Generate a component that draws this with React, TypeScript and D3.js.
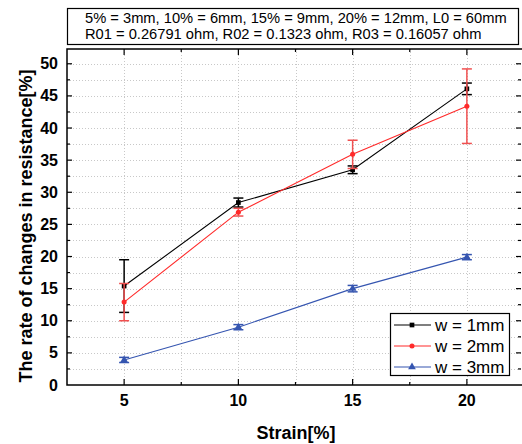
import * as d3 from "d3";
import { useRef, useEffect } from "react";

// strain values on the x axis
const strains = [5, 10, 15, 20];

// mean resistance change for each width
const w1Values = [15.4, 28.4, 33.5, 46.1];
const w2Values = [12.9, 26.9, 35.9, 43.4];
const w3Values = [3.9, 9.0, 15.0, 19.9];

// error bar half-heights
const w1Errors = [4.1, 0.7, 0.6, 0.9];
const w2Errors = [2.9, 0.6, 2.2, 5.8];
const w3Errors = [0.4, 0.4, 0.5, 0.4];

// tick labels
const xTicks = [5, 10, 15, 20];
const yTicks = [0, 5, 10, 15, 20, 25, 30, 35, 40, 45, 50];

const legendLabels = ["w = 1mm", "w = 2mm", "w = 3mm"];
const noteLines = [
  "5% = 3mm, 10% = 6mm, 15% = 9mm, 20% = 12mm, L0 = 60mm",
  "R01 = 0.26791 ohm, R02 = 0.1323 ohm, R03 = 0.16057 ohm",
];

const FONT = "Arial, 'Liberation Sans', sans-serif";

export default function App() {
  const svgRef = useRef<SVGSVGElement>(null);

  useEffect(() => {
    const svg = d3.select(svgRef.current);
    svg.selectAll("*").remove();

    const left = 67, right = 524, top = 49, bottom = 385;

    const x = d3.scaleLinear().domain([2.5, 22.5]).range([left, right]);
    const y = d3.scaleLinear().domain([0, 52.3]).range([bottom, top]);

    // dotted grid on major and minor ticks
    const grid = svg.append("g").attr("stroke", "#c8c8c8").attr("stroke-width", 1).attr("stroke-dasharray", "1,2");
    d3.range(5, 22.6, 2.5).forEach(v => {
      grid.append("line").attr("x1", Math.round(x(v)) + 0.5).attr("x2", Math.round(x(v)) + 0.5).attr("y1", top).attr("y2", bottom);
    });
    d3.range(2.5, 52.3, 2.5).forEach(v => {
      grid.append("line").attr("x1", left).attr("x2", right).attr("y1", Math.round(y(v)) + 0.5).attr("y2", Math.round(y(v)) + 0.5);
    });

    // frame
    svg.append("rect").attr("x", left).attr("y", top).attr("width", right - left).attr("height", bottom - top)
      .attr("fill", "none").attr("stroke", "#000").attr("stroke-width", 1.5);

    // inward ticks on all four sides
    const ticks = svg.append("g").attr("stroke", "#000").attr("stroke-width", 1.2);
    d3.range(5, 22.6, 2.5).forEach(v => {
      const len = v % 5 === 0 ? 6 : 3;
      ticks.append("line").attr("x1", x(v)).attr("x2", x(v)).attr("y1", bottom).attr("y2", bottom - len);
      ticks.append("line").attr("x1", x(v)).attr("x2", x(v)).attr("y1", top).attr("y2", top + len);
    });
    d3.range(2.5, 52.3, 2.5).forEach(v => {
      const len = v % 5 === 0 ? 5 : 3;
      ticks.append("line").attr("x1", left).attr("x2", left + len).attr("y1", y(v)).attr("y2", y(v));
      ticks.append("line").attr("x1", 521).attr("x2", 521 - len).attr("y1", y(v)).attr("y2", y(v));
    });

    // tick labels
    svg.append("g").selectAll("text").data(xTicks).enter().append("text")
      .attr("x", d => x(d)).attr("y", 406).attr("text-anchor", "middle")
      .attr("font-family", FONT).attr("font-weight", "bold").attr("font-size", 16).text(d => d);
    svg.append("g").selectAll("text").data(yTicks).enter().append("text")
      .attr("x", 58).attr("y", d => y(d) + 5.5).attr("text-anchor", "end")
      .attr("font-family", FONT).attr("font-weight", "bold").attr("font-size", 16).text(d => d);

    // axis titles
    svg.append("text").attr("x", 296).attr("y", 439).attr("text-anchor", "middle")
      .attr("font-family", FONT).attr("font-weight", "bold").attr("font-size", 18).text("Strain[%]");
    svg.append("text").attr("transform", "translate(32,226) rotate(-90)").attr("text-anchor", "middle")
      .attr("font-family", FONT).attr("font-weight", "bold").attr("font-size", 18)
      .text("The rate of changes in resistance[%]");

    // series
    const series = [
      { values: w1Values, errors: w1Errors, color: "#000000", bar: "#000000", shape: d3.symbolSquare, size: 22 },
      { values: w2Values, errors: w2Errors, color: "#ff2a2a", bar: "#f05050", shape: d3.symbolCircle, size: 20 },
      { values: w3Values, errors: w3Errors, color: "#3555b0", bar: "#3555b0", shape: d3.symbolTriangle, size: 26 },
    ];

    const line = d3.line<number>().x((_, i) => x(strains[i])).y(d => y(d));

    series.forEach(s => {
      const g = svg.append("g");
      // error bars
      s.values.forEach((v, i) => {
        const cx = x(strains[i]);
        const hi = y(v + s.errors[i]), lo = y(v - s.errors[i]);
        g.append("line").attr("x1", cx).attr("x2", cx).attr("y1", hi).attr("y2", lo).attr("stroke", s.bar).attr("stroke-width", 1.5);
        g.append("line").attr("x1", cx - 5).attr("x2", cx + 5).attr("y1", hi).attr("y2", hi).attr("stroke", s.bar).attr("stroke-width", 1.5);
        g.append("line").attr("x1", cx - 5).attr("x2", cx + 5).attr("y1", lo).attr("y2", lo).attr("stroke", s.bar).attr("stroke-width", 1.5);
      });
      g.append("path").attr("d", line(s.values)).attr("fill", "none").attr("stroke", s.color).attr("stroke-width", 1.1);
      g.selectAll("path.m").data(s.values).enter().append("path").attr("class", "m")
        .attr("transform", (d, i) => `translate(${x(strains[i])},${y(d)})`)
        .attr("d", d3.symbol().type(s.shape).size(s.size)()).attr("fill", s.color);
    });

    // legend
    const lg = svg.append("g");
    lg.append("rect").attr("x", 390.5).attr("y", 313.5).attr("width", 119).attr("height", 62)
      .attr("fill", "#fff").attr("stroke", "#000").attr("stroke-width", 1.2);
    series.forEach((s, i) => {
      const ly = 325 + i * 21;
      lg.append("line").attr("x1", 394).attr("x2", 431).attr("y1", ly).attr("y2", ly).attr("stroke", s.color).attr("stroke-width", 1.1);
      lg.append("path").attr("transform", `translate(412,${ly})`).attr("d", d3.symbol().type(s.shape).size(s.size)()).attr("fill", s.color);
      lg.append("text").attr("x", 435).attr("y", ly + 6).attr("font-family", FONT).attr("font-size", 17).text(legendLabels[i]);
    });

    // note box above the plot
    svg.append("rect").attr("x", 67.5).attr("y", 8.5).attr("width", 451).attr("height", 36)
      .attr("fill", "#fff").attr("stroke", "#000").attr("stroke-width", 1.2);
    noteLines.forEach((t, i) => {
      svg.append("text").attr("x", 85).attr("y", 23 + i * 16).attr("font-family", FONT).attr("font-size", 14.7).text(t);
    });
  }, []);

  return (
    <svg ref={svgRef} width={522} height={444} style={{ position: "absolute", left: 0, top: 0, background: "#fff" }} />
  );
}
